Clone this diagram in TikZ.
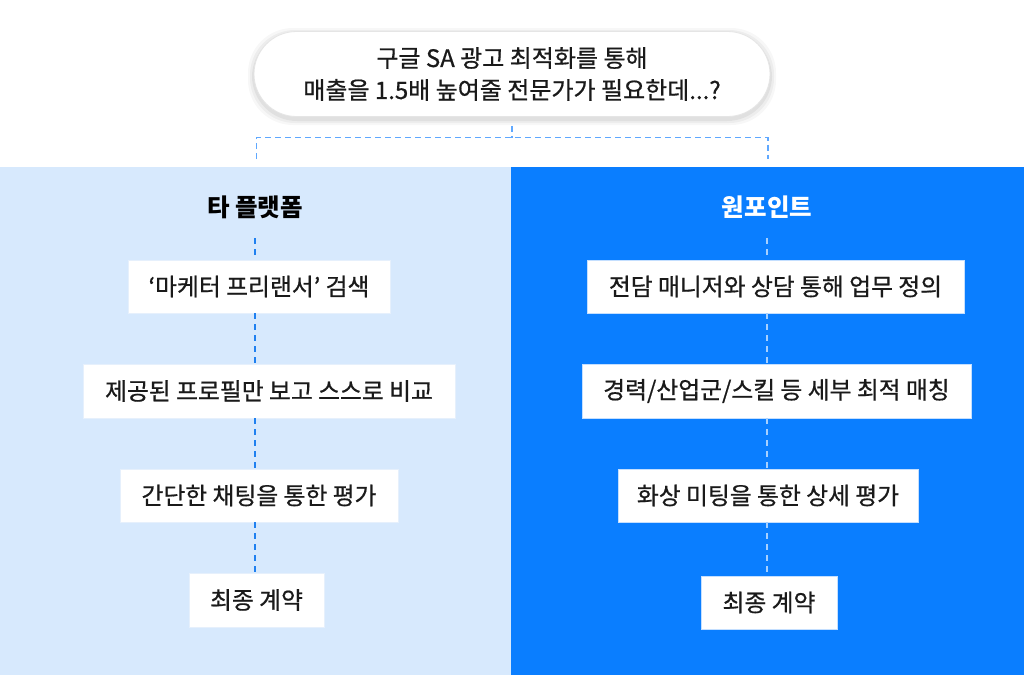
\documentclass[tikz,border=0pt]{standalone}
\usepackage{fontspec}
\setmainfont{Noto Sans CJK KR}
\newfontfamily\medfont{Noto Sans CJK KR}[FakeBold=0.7]
\usetikzlibrary{calc}
\definecolor{panelL}{HTML}{D7E9FD}
\definecolor{panelR}{HTML}{0A7EFF}
\definecolor{dashL}{HTML}{1F80F0}
\definecolor{dashR}{HTML}{A6D0FF}
\definecolor{dashT}{HTML}{5FA8FF}
\definecolor{txt}{HTML}{1A1A1A}
\definecolor{edgeL}{HTML}{E6F0FC}
\definecolor{edgeR}{HTML}{C4DFFF}
\tikzset{
  boxL/.style={draw=edgeL, line width=0.8pt, fill=white, inner sep=0pt, minimum height=53pt, text=txt, font=\medfont\fontsize{23.8}{27}\selectfont},
  boxR/.style={draw=edgeR, line width=0.8pt, fill=white, inner sep=0pt, minimum height=53pt, text=txt, font=\medfont\fontsize{23.8}{27}\selectfont},
  ttl/.style={inner sep=0pt, minimum height=62pt, font=\fontsize{24.5}{28}\selectfont\bfseries},
  conL/.style={draw=dashL, line width=1.3pt, dash pattern=on 6pt off 5pt},
  conR/.style={draw=dashR, line width=1.6pt, dash pattern=on 6pt off 5pt},
  conT/.style={draw=dashT, line width=1.5pt, dash pattern=on 6pt off 4pt},
}
\begin{document}
\begin{tikzpicture}[x=1pt,y=-1pt]
\useasboundingbox (0,0) rectangle (1024,675);
\fill[white] (0,0) rectangle (1024,675);
% panels
\fill[panelL] (0,167) rectangle (511,675);
\fill[panelR] (511,167) rectangle (1024,675);
% pill shadow
\foreach \s/\o in {6/0.03,4/0.04,2/0.05}{
  \fill[black,opacity=\o,rounded corners=45pt] (254-\s,31-\s+3) rectangle (770+\s,116+\s+3);
}
\node[draw=black!10, line width=0.8pt, fill=white, rounded corners=42.5pt, minimum width=516pt, minimum height=85pt, inner sep=0pt, align=center, text=txt, font=\medfont\fontsize{24}{32}\selectfont] (pill) at (512,74) {구글 SA 광고 최적화를 통해\\매출을 1.5배 높여줄 전문가가 필요한데...?};
% top connector
\coordinate (tj) at (512,137.5);
\coordinate (tl) at (256.5,137.5);
\coordinate (tr) at (768,137.5);
\coordinate (ld) at (256.5,159);
\coordinate (rd) at (768,159);
\draw[conT] ($(pill.south)+(0,9)$) -- (tj);
\draw[conT] (ld) -- (tl) -- (tr) -- (rd);
% titles
\node[ttl, text=black] (tL) at (255,207) {타 플랫폼};
\node[ttl, text=white] (tR) at (767,207) {원포인트};
% left boxes
\node[boxL, minimum width=262pt] (l1) at (259,286.5) {‘마케터 프리랜서’ 검색};
\node[boxL, minimum width=372pt, minimum height=54pt] (l2) at (269,391) {제공된 프로필만 보고 스스로 비교};
\node[boxL, minimum width=278pt] (l3) at (259,495.5) {간단한 채팅을 통한 평가};
\node[boxL, minimum width=135pt, minimum height=54pt] (l4) at (256.5,600) {최종 계약};
% right boxes
\node[boxR, minimum width=377pt] (r1) at (775.5,286.5) {전담 매니저와 상담 통해 업무 정의};
\node[boxR, minimum width=389pt, minimum height=54pt] (r2) at (776.5,391) {경력/산업군/스킬 등 세부 최적 매칭};
\node[boxR, minimum width=300pt] (r3) at (768,495.5) {화상 미팅을 통한 상세 평가};
\node[boxR, minimum width=136pt] (r4) at (769,602.5) {최종 계약};
% left connectors
\draw[conL] (tL.south) -- (tL.south |- l1.north);
\draw[conL] (tL.south |- l1.south) -- (tL.south |- l2.north);
\draw[conL] (tL.south |- l2.south) -- (tL.south |- l3.north);
\draw[conL] (tL.south |- l3.south) -- (tL.south |- l4.north);
% right connectors
\draw[conR] (tR.south) -- (tR.south |- r1.north);
\draw[conR] (tR.south |- r1.south) -- (tR.south |- r2.north);
\draw[conR] (tR.south |- r2.south) -- (tR.south |- r3.north);
\draw[conR] (tR.south |- r3.south) -- (tR.south |- r4.north);
\end{tikzpicture}
\end{document}
